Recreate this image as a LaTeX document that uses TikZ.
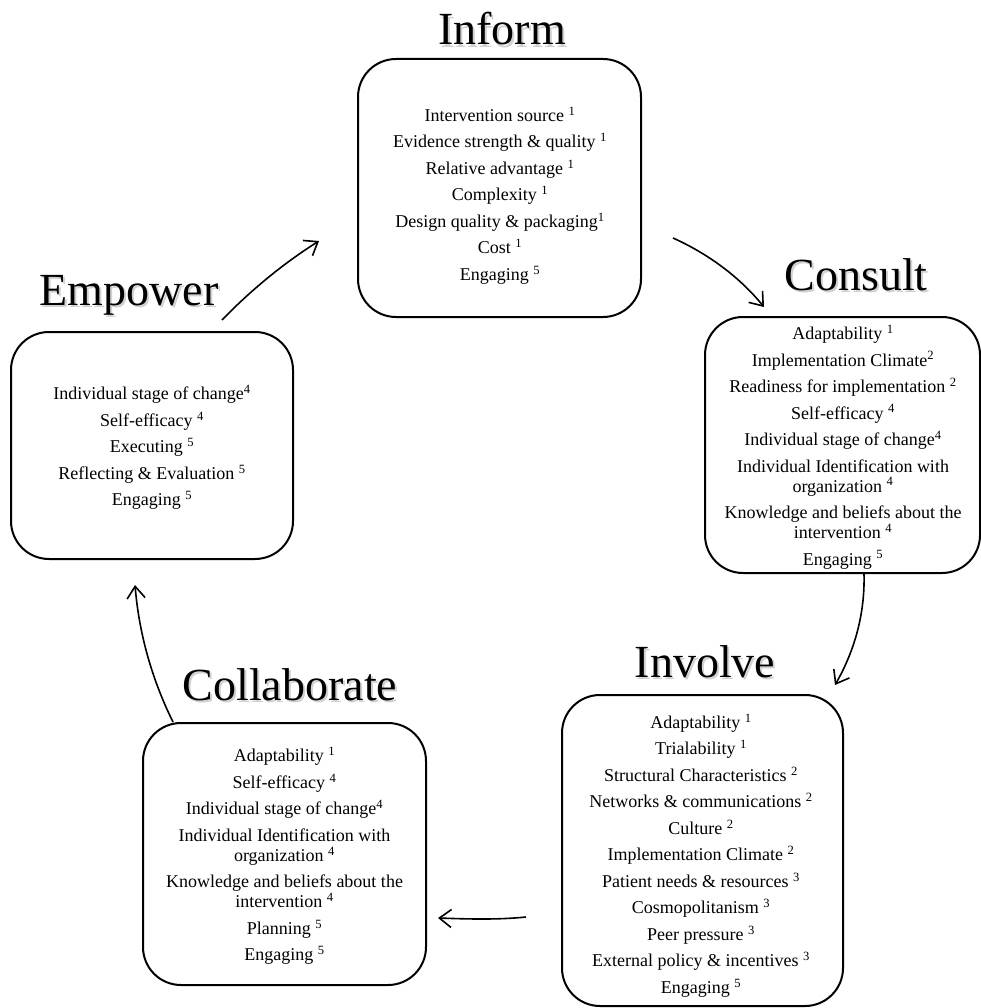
\documentclass[tikz,border=0pt]{standalone}
\usepackage{fontspec}
\setmainfont{Liberation Serif}
\usetikzlibrary{arrows.meta}
\newcommand{\mysup}[1]{\textsuperscript{#1}}
\newcommand{\nl}{\\[6.5pt]}
\newcommand{\shadowed}[1]{%
  \makebox[0pt][l]{\kern2pt\raisebox{-2.8pt}{\color{black!18}#1}}%
  #1}
\begin{document}
\begin{tikzpicture}[x=1pt,y=-1pt,
  stagebox/.style={draw=black, line width=2pt, rounded corners=38pt, inner sep=0pt},
  stagetext/.style={align=center, font=\fontsize{18}{20}\selectfont, inner sep=0pt},
  stagetitle/.style={anchor=base, font=\fontsize{46}{50}\selectfont, inner sep=0pt},
  flow/.style={line width=1.6pt, -{Straight Barb[length=12pt,width=18pt,line width=1.6pt]}}
]
\useasboundingbox (0,0) rectangle (981,1008);

% boxes
\node[stagebox, minimum width=283pt, minimum height=258pt] (inform) at (499.5,188) {};
\node[stagebox, minimum width=275pt, minimum height=256pt] (consult) at (842.5,445) {};
\node[stagebox, minimum width=281pt, minimum height=311pt] (involve) at (702.5,850.5) {};
\node[stagebox, minimum width=283pt, minimum height=262pt] (collab) at (284.5,854) {};
\node[stagebox, minimum width=282pt, minimum height=227pt] (empower) at (152,445.5) {};

% box contents
\node[stagetext] (inform-t) at (500,195.5) {%
Intervention source \mysup{1}\nl
Evidence strength \& quality \mysup{1}\nl
Relative advantage \mysup{1}\nl
Complexity \mysup{1}\nl
Design quality \& packaging\mysup{1}\nl
Cost \mysup{1}\nl
Engaging \mysup{5}};

\node[stagetext] (consult-t) at (843,447) {%
Adaptability \mysup{1}\nl
Implementation Climate\mysup{2}\nl
Readiness for implementation \mysup{2}\nl
Self-efficacy \mysup{4}\nl
Individual stage of change\mysup{4}\nl
Individual Identification with\\ organization \mysup{4}\nl
Knowledge and beliefs about the\\ intervention \mysup{4}\nl
Engaging \mysup{5}};

\node[stagetext] (involve-t) at (701,855.5) {%
Adaptability \mysup{1}\nl
Trialability \mysup{1}\nl
Structural Characteristics \mysup{2}\nl
Networks \& communications \mysup{2}\nl
Culture \mysup{2}\nl
Implementation Climate \mysup{2}\nl
Patient needs \& resources \mysup{3}\nl
Cosmopolitanism \mysup{3}\nl
Peer pressure \mysup{3}\nl
External policy \& incentives \mysup{3}\nl
Engaging \mysup{5}};

\node[stagetext] (collab-t) at (284.5,856) {%
Adaptability \mysup{1}\nl
Self-efficacy \mysup{4}\nl
Individual stage of change\mysup{4}\nl
Individual Identification with\\ organization \mysup{4}\nl
Knowledge and beliefs about the\\ intervention \mysup{4}\nl
Planning \mysup{5}\nl
Engaging \mysup{5}};

\node[stagetext] (empower-t) at (152,447.5) {%
Individual stage of change\mysup{4}\nl
Self-efficacy \mysup{4}\nl
Executing \mysup{5}\nl
Reflecting \& Evaluation \mysup{5}\nl
Engaging \mysup{5}};

% titles
\node[stagetitle] (tinform) at (502,45) {\shadowed{Inform}};
\node[stagetitle] (tconsult) at (856,290) {\shadowed{Consult}};
\node[stagetitle] (tinvolve) at (705,677) {\shadowed{Involve}};
\node[stagetitle] (tcollab) at (290,700) {\shadowed{Collaborate}};
\node[stagetitle] (tempower) at (129,305) {\shadowed{Empower}};

% connector ends
\coordinate (a1s) at (222,320);
\coordinate (a1e) at (319,241);
\coordinate (a2s) at (673,238);
\coordinate (a2e) at (764,307);
\coordinate (a3s) at (864,574);
\coordinate (a3e) at (835,685);
\coordinate (a4s) at (526,917);
\coordinate (a4e) at (438,918);
\coordinate (a5s) at (173,722);
\coordinate (a5e) at (135,585);

\draw[flow] (a1s) .. controls (251,290) and (284,263) .. (a1e);
\draw[flow] (a2s) .. controls (708.5,254) and (739.5,277) .. (a2e);
\draw[flow] (a3s) .. controls (865,613) and (855,650) .. (a3e);
\draw[flow] (a4s) .. controls (497,920) and (467,919) .. (a4e);
\draw[flow] (a5s) .. controls (151.6,678.7) and (139,633) .. (a5e);
\end{tikzpicture}
\end{document}
